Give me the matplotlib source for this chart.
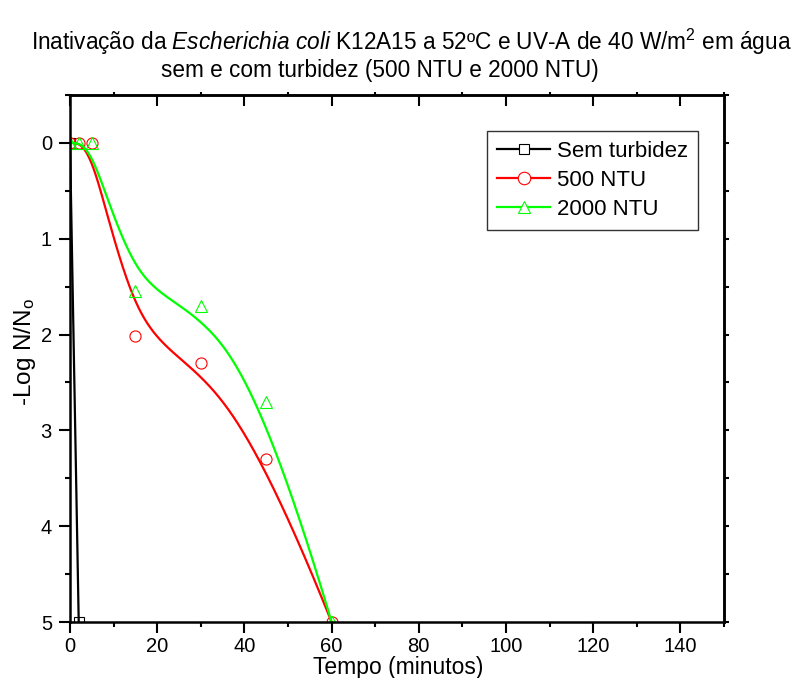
import numpy as np
import matplotlib
matplotlib.use("Agg")
import matplotlib.pyplot as plt
from matplotlib.lines import Line2D
from matplotlib.ticker import MultipleLocator

plt.rcParams['font.family'] = ['Liberation Sans', 'DejaVu Sans']
plt.rcParams['mathtext.fontset'] = 'custom'
plt.rcParams['mathtext.rm'] = 'Liberation Sans'
plt.rcParams['mathtext.it'] = 'Liberation Sans:italic'

# dados
tempo_sem = [0, 2]
log_sem = [0, 5]
tempo_500 = [0, 2, 5, 15, 30, 45, 60]
log_500 = [0, 0, 0, 2.02, 2.3, 3.3, 5]
tempo_2000 = [0, 2, 5, 15, 30, 45, 60]
log_2000 = [0, 0, 0, 1.55, 1.7, 2.7, 5]

nomes = ["Sem turbidez", "500 NTU", "2000 NTU"]
cores = ["black", "#ff0000", "#00ff00"]
marcadores = ["s", "o", "^"]


# B-spline cubico (pontos como pontos de controle), como no Origin
def bspline(xs, ys, k=3, n=400):
    P = np.column_stack([xs, ys]).astype(float)
    m = len(P)
    k = min(k, m - 1)
    t = np.concatenate([np.zeros(k), np.arange(m - k + 1), np.full(k, m - k)]).astype(float)
    u = np.linspace(0, m - k, n)
    u[-1] -= 1e-9
    N = np.zeros((n, len(t) - 1))
    for i in range(len(t) - 1):
        N[:, i] = ((u >= t[i]) & (u < t[i + 1])).astype(float)
    for d in range(1, k + 1):
        Nn = np.zeros((n, len(t) - 1 - d))
        for i in range(len(t) - 1 - d):
            a = t[i + d] - t[i]
            b = t[i + d + 1] - t[i + 1]
            termo = np.zeros(n)
            if a > 0:
                termo += (u - t[i]) / a * N[:, i]
            if b > 0:
                termo += (t[i + d + 1] - u) / b * N[:, i + 1]
            Nn[:, i] = termo
        N = Nn
    C = N @ P
    return C[:, 0], C[:, 1]


fig = plt.figure(figsize=(7.94, 6.78), dpi=100)
ax = fig.add_axes([70 / 794, 1 - 622 / 678, (724 - 70) / 794, (622 - 95) / 678])

series = [(tempo_sem, log_sem), (tempo_500, log_500), (tempo_2000, log_2000)]
handles = []
for (x, y), nome, cor, mk in zip(series, nomes, cores, marcadores):
    cx, cy = bspline(x, y)
    ax.plot(cx, cy, color=cor, lw=1.6)
    ms = 6.5 if mk == "s" else 8
    ax.plot(x, y, ls="none", marker=mk, ms=ms, mfc="none", mec=cor, mew=0.8)
    handles.append(Line2D([], [], color=cor, lw=1.6, marker=mk, ms=ms + 1,
                          mfc="white", mec=cor, mew=0.8, label=nome))

ax.set_xlim(0, 150)
ax.set_ylim(5, -0.5)
ax.set_xticks(np.arange(0, 141, 20))
ax.set_yticks(np.arange(0, 6, 1))
ax.xaxis.set_minor_locator(MultipleLocator(10))
ax.yaxis.set_minor_locator(MultipleLocator(0.5))
for s in ax.spines.values():
    s.set_linewidth(1.8)
ax.tick_params(which="major", direction="out", length=8, width=1.5, labelsize=14.5, pad=5)
ax.tick_params(axis="x", which="major", pad=3)
ax.tick_params(which="minor", direction="out", length=3.5, width=1.5)
ax.tick_params(top=False, right=False)

topo = ax.secondary_xaxis("top")
topo.set_xticks(np.arange(0, 141, 20))
topo.xaxis.set_minor_locator(MultipleLocator(10))
topo.tick_params(which="major", direction="in", length=8, width=1.5, labeltop=False)
topo.tick_params(which="minor", direction="out", length=2, width=1.5)
topo.spines["top"].set_linewidth(1.8)

direita = ax.secondary_yaxis("right")
direita.set_yticks(np.arange(0, 6, 1))
direita.yaxis.set_minor_locator(MultipleLocator(0.5))
direita.tick_params(which="both", direction="out", length=3.5, width=1.5, labelright=False)
direita.spines["right"].set_linewidth(1.8)

fig.text(411 / 794, 1 - 50 / 678,
         r"Inativação da $\mathit{Escherichia\ coli}$ K12A15 a 52ºC e UV-A de 40 W/m$^\mathregular{2}$ em água",
         ha="center", va="baseline", fontsize=16.3)
fig.text(380 / 794, 1 - 77 / 678, "sem e com turbidez (500 NTU e 2000 NTU)",
         ha="center", va="baseline", fontsize=16.3)
fig.text(398 / 794, 1 - 674 / 678, "Tempo (minutos)", ha="center", va="baseline", fontsize=16.5)
fig.text(25 / 794, 1 - 352 / 678, r"-Log N/N$_\mathregular{o}$", rotation=90,
         ha="center", va="center", fontsize=17.5)

leg = ax.legend(handles=handles, loc="upper left", bbox_to_anchor=(487 / 794, 1 - 131 / 678),
                bbox_transform=fig.transFigure, borderaxespad=0, fontsize=16,
                handlelength=2.4, handletextpad=0.3, labelspacing=0.35,
                borderpad=0.45, fancybox=False, framealpha=1, numpoints=1)
leg.get_frame().set_edgecolor("#333333")
leg.get_frame().set_linewidth(1.0)

fig.savefig("out.png", dpi=100)
